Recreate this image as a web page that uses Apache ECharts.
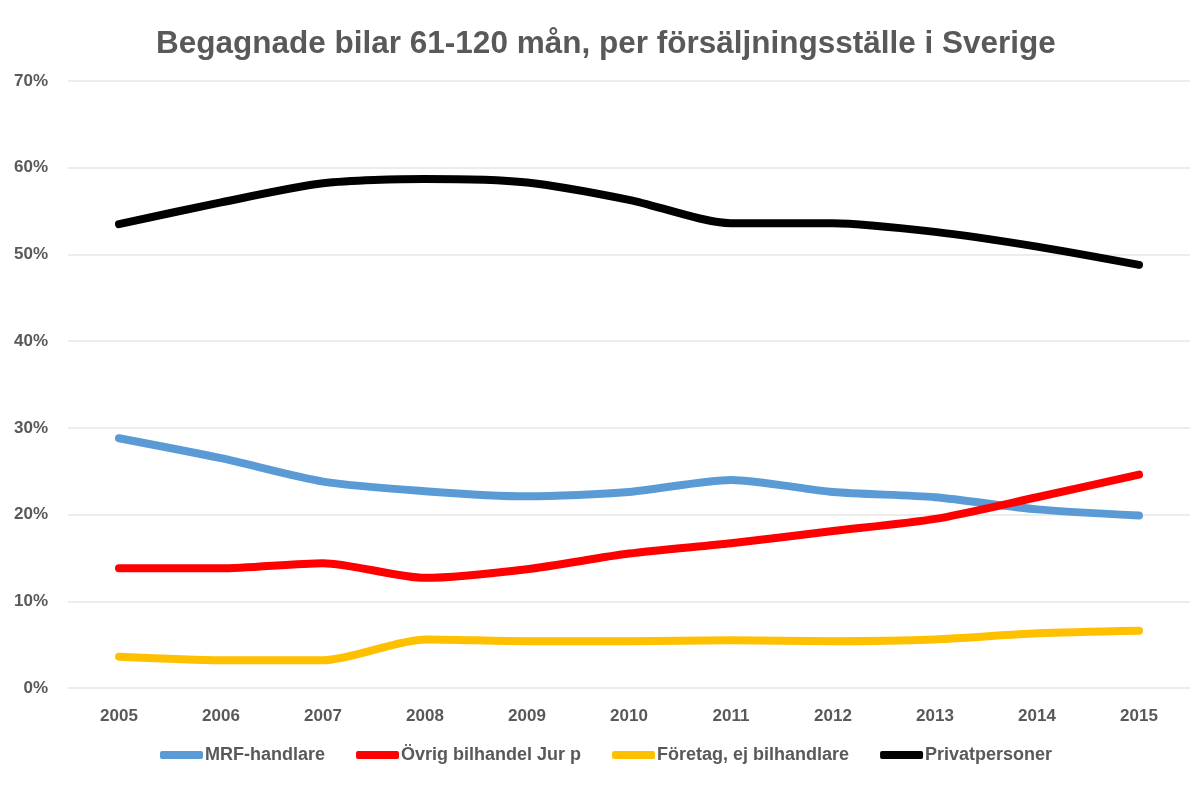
<!DOCTYPE html>
<html><head><meta charset="utf-8">
<script src="https://cdn.jsdelivr.net/npm/echarts@6/dist/echarts.min.js"></script>
<style>html,body{margin:0;padding:0;background:#fff}#c{width:1200px;height:785px}</style>
</head><body><div id="c"></div>
<script>
const years = ['2005','2006','2007','2008','2009','2010','2011','2012','2013','2014','2015'];
const mrf = [28.8, 26.5, 23.8, 22.7, 22.1, 22.6, 24.0, 22.6, 22.0, 20.6, 19.9];
const ovrig = [13.8, 13.8, 14.4, 12.7, 13.7, 15.5, 16.7, 18.1, 19.5, 22.0, 24.6];
const foretag = [3.6, 3.2, 3.2, 5.6, 5.4, 5.4, 5.5, 5.4, 5.6, 6.3, 6.6];
const privat = [53.5, 56.0, 58.2, 58.7, 58.3, 56.3, 53.6, 53.6, 52.6, 50.9, 48.8];
const names = ['MRF-handlare','Övrig bilhandel Jur p','Företag, ej bilhandlare','Privatpersoner'];
const colors = ['#5B9BD5','#FF0000','#FFC000','#000000'];
const seriesData = [mrf, ovrig, foretag, privat];
const font = '"Liberation Sans", Arial, sans-serif';
const chart = echarts.init(document.getElementById('c'));
chart.setOption({
  animation:false,
  backgroundColor:'#fff',
  title:{text:'Begagnade bilar 61-120 mån, per försäljningsställe i Sverige',left:151,top:23,
    textStyle:{fontFamily:font,fontSize:31.5,fontWeight:'bold',color:'#595959'}},
  grid:{left:68,right:10,top:81,bottom:97,containLabel:false},
  legend:{top:741,left:155,itemWidth:43,itemHeight:8,itemGap:31,icon:'roundRect',
    textStyle:{fontFamily:font,fontSize:18,fontWeight:'bold',color:'#595959',padding:[0,0,0,-3]},
    data:names},
  xAxis:{type:'category',data:years,boundaryGap:true,
    axisLine:{show:false},axisTick:{show:false},
    axisLabel:{fontFamily:font,fontSize:17,fontWeight:'bold',color:'#595959',margin:20}},
  yAxis:{type:'value',min:0,max:70,interval:10,
    axisLabel:{formatter:'{value}%',fontFamily:font,fontSize:17,fontWeight:'bold',color:'#595959',margin:20},
    splitLine:{lineStyle:{color:'#e6e6e6',width:1.5}},
    axisLine:{show:false},axisTick:{show:false}},
  series: seriesData.map((d,i)=>({name:names[i],type:'line',data:d,smooth:0.25,showSymbol:false,
    symbol:'none',color:colors[i],lineStyle:{width:8,color:colors[i],cap:'round',join:'round'}}))
});
</script></body></html>
